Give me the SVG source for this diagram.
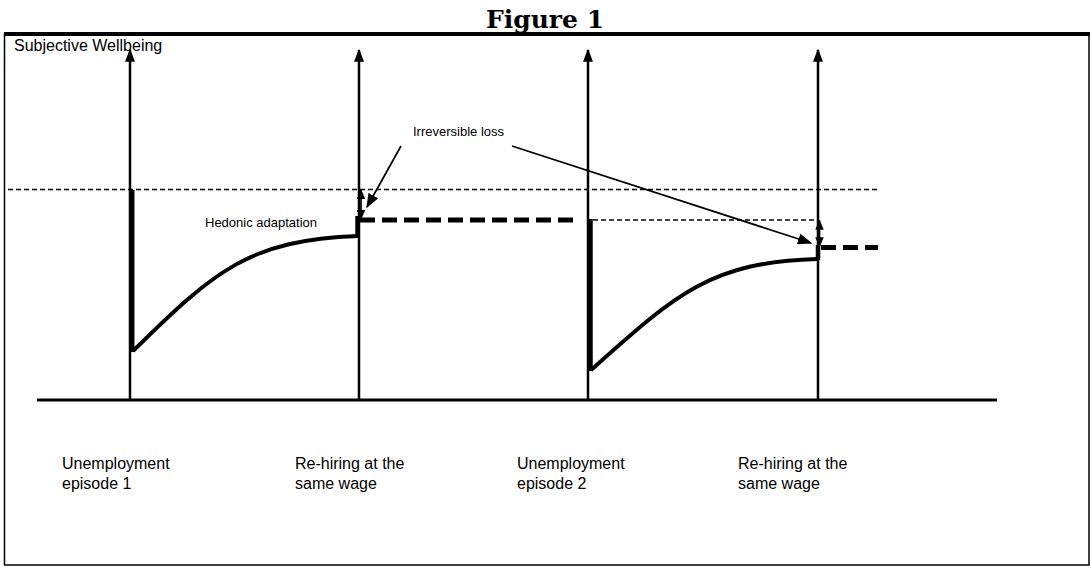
<svg xmlns="http://www.w3.org/2000/svg" width="1091" height="584" viewBox="0 0 1091 584">
<style>
text{font-family:"Liberation Sans",Arial,sans-serif;fill:#000}
.lbl{font-size:16px}
.small{font-size:13px}
.ax{stroke:#000;stroke-width:2.5;fill:none}
.thin{stroke:#000;stroke-width:1.5;stroke-dasharray:5,3;fill:none}
.thick{stroke:#000;stroke-width:5;stroke-dasharray:15,7;fill:none}
.curve{stroke:#000;stroke-width:4;fill:none}
.bar{stroke:#000;stroke-width:4.5;fill:none}
.ptr{stroke:#000;stroke-width:1.7;fill:none}
.dbl{stroke:#000;stroke-width:1.7;fill:none}
</style>
<defs>
<marker id="ah" viewBox="0 0 10 10" refX="9" refY="5" markerWidth="5.2" markerHeight="4" preserveAspectRatio="none" markerUnits="strokeWidth" orient="auto"><path d="M0,0 L10,5 L0,10 z" fill="#000"/></marker>
<marker id="ahs" viewBox="0 0 10 10" refX="9" refY="5" markerWidth="6" markerHeight="5" preserveAspectRatio="none" markerUnits="strokeWidth" orient="auto-start-reverse"><path d="M0,0 L10,5 L0,10 z" fill="#000"/></marker>
<marker id="ahp" viewBox="0 0 10 10" refX="9" refY="5" markerWidth="8.5" markerHeight="6.5" preserveAspectRatio="none" markerUnits="strokeWidth" orient="auto"><path d="M0,0 L10,5 L0,10 z" fill="#000"/></marker>
</defs>
<rect width="1091" height="584" fill="#fff"/>
<text x="545" y="28" text-anchor="middle" style="font-family:'DejaVu Serif','Liberation Serif',serif;font-weight:bold;font-size:25px">Figure 1</text>
<g id="frame">
<rect x="4.5" y="34" width="1084.5" height="531" fill="none" stroke="#000" stroke-width="1.5"/>
<line x1="4" y1="34" x2="1090" y2="34" stroke="#000" stroke-width="4"/>
</g>
<g id="axis-label"><text class="lbl" x="14" y="51">Subjective Wellbeing</text></g>
<g id="connectors">
<line class="ax" x1="37" y1="400" x2="997" y2="400" style="stroke-width:3"/>
<line class="ax" x1="130" y1="400" x2="130" y2="50" marker-end="url(#ah)"/>
<line class="ax" x1="359" y1="400" x2="359" y2="50" marker-end="url(#ah)"/>
<line class="ax" x1="588" y1="400" x2="588" y2="50" marker-end="url(#ah)"/>
<line class="ax" x1="818" y1="400" x2="818" y2="50" marker-end="url(#ah)"/>
<line class="thin" x1="8" y1="189.5" x2="878" y2="189.5"/>
<line class="thin" x1="593" y1="220" x2="818" y2="220"/>
<line class="dbl" x1="361" y1="190" x2="361" y2="219" marker-start="url(#ahs)" marker-end="url(#ahs)"/>
<line class="dbl" x1="819.5" y1="220.5" x2="819.5" y2="246.5" marker-start="url(#ahs)" marker-end="url(#ahs)"/>
<line class="ptr" x1="401" y1="146" x2="367" y2="207" marker-end="url(#ahp)"/>
<line class="ptr" x1="512" y1="146" x2="811" y2="243" marker-end="url(#ahp)"/>
</g>
<g id="episode1">
<line class="bar" x1="132.2" y1="190" x2="132.2" y2="352"/>
<path class="curve" d="M133,351 C215,270 250,240 358,236"/>
<line class="bar" x1="357.5" y1="237.5" x2="357.5" y2="216"/>
<line class="thick" x1="360" y1="220" x2="578" y2="220"/>
</g>
<g id="episode2">
<line class="bar" x1="590.5" y1="219" x2="590.5" y2="371"/>
<path class="curve" d="M591,370 C675,295 710,262 817,259"/>
<line class="bar" x1="818" y1="260" x2="818" y2="245"/>
<line class="thick" x1="821" y1="247.5" x2="878" y2="247.5"/>
</g>
<g id="annotations">
<text class="small" x="413" y="136">Irreversible loss</text>
<text class="small" x="205" y="227">Hedonic adaptation</text>
</g>
<g id="labels">
<text class="lbl" x="62" y="469">Unemployment</text>
<text class="lbl" x="62" y="489">episode 1</text>
<text class="lbl" x="295" y="469">Re-hiring at the</text>
<text class="lbl" x="295" y="489">same wage</text>
<text class="lbl" x="517" y="469">Unemployment</text>
<text class="lbl" x="517" y="489">episode 2</text>
<text class="lbl" x="738" y="469">Re-hiring at the</text>
<text class="lbl" x="738" y="489">same wage</text>
</g>
</svg>
